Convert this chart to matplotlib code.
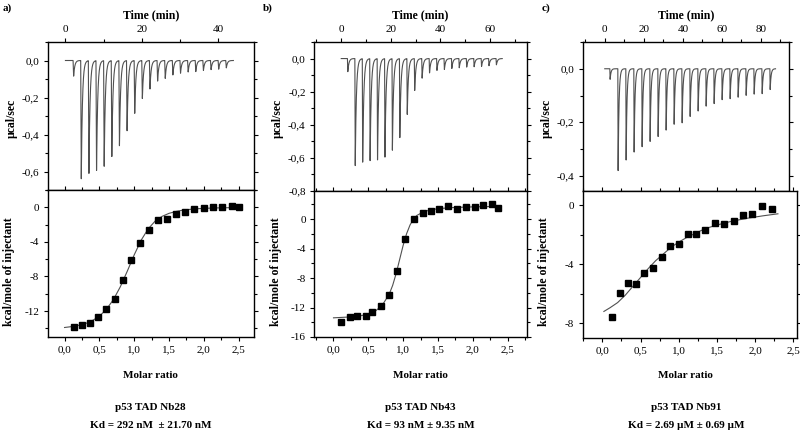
import numpy as np
import matplotlib
matplotlib.use("Agg")
import matplotlib.pyplot as plt
from matplotlib.ticker import MultipleLocator, FuncFormatter

plt.rcParams['font.family'] = ['Liberation Serif', 'DejaVu Serif']
plt.rcParams['font.size'] = 8

# ---- panel a: p53 TAD Nb28 ----
inj_a = [2, 4, 6, 8, 10, 12, 14, 16, 18, 20, 22, 24, 26, 28, 30, 32, 34, 36, 38, 40, 42]
peak_a = [-0.085, -0.642, -0.617, -0.599, -0.573, -0.524, -0.465, -0.38, -0.288, -0.208,
          -0.154, -0.112, -0.098, -0.078, -0.069, -0.063, -0.06, -0.054, -0.05, -0.047, -0.04]
ratio_a = [0.13, 0.25, 0.37, 0.48, 0.60, 0.72, 0.84, 0.96, 1.09, 1.21,
           1.34, 1.47, 1.60, 1.73, 1.86, 2.00, 2.13, 2.26, 2.40, 2.50]
heat_a = [-13.85, -13.62, -13.39, -12.73, -11.77, -10.61, -8.41, -6.10, -4.09, -2.58,
          -1.47, -1.39, -0.81, -0.50, -0.15, -0.12, 0.0, 0.04, 0.12, 0.08]
fitx_a = [0.0, 0.1, 0.2, 0.3, 0.4, 0.5, 0.6, 0.7, 0.8, 0.9, 1.0, 1.1, 1.2, 1.3, 1.4, 1.5,
          1.6, 1.7, 1.8, 1.9, 2.0, 2.2, 2.4, 2.5]
fity_a = [-13.9, -13.8, -13.65, -13.45, -13.1, -12.6, -11.8, -10.7, -9.2, -7.4, -5.5, -3.8,
          -2.5, -1.6, -1.05, -0.7, -0.48, -0.33, -0.24, -0.17, -0.12, -0.07, -0.04, -0.03]

# ---- panel b: p53 TAD Nb43 ----
inj_b = [2.5, 5.5, 8.5, 11.5, 14.5, 17.5, 20.5, 23.5, 26.5, 29.5, 32.5, 35.5, 38.5, 41.5,
         44.5, 47.5, 50.5, 53.5, 56.5, 59.5, 62.5]
peak_b = [-0.08, -0.655, -0.635, -0.625, -0.615, -0.595, -0.555, -0.48, -0.34, -0.195,
          -0.12, -0.088, -0.072, -0.066, -0.06, -0.056, -0.052, -0.05, -0.048, -0.044, -0.038]
ratio_b = [0.115, 0.23, 0.34, 0.46, 0.56, 0.68, 0.80, 0.91, 1.03, 1.16,
           1.28, 1.40, 1.52, 1.65, 1.77, 1.90, 2.03, 2.15, 2.28, 2.37]
heat_b = [-14.0, -13.3, -13.1, -13.1, -12.6, -11.8, -10.3, -7.1, -2.7, 0.0,
          0.78, 1.14, 1.42, 1.83, 1.33, 1.6, 1.69, 1.88, 1.97, 1.5]
fitx_b = [0.0, 0.1, 0.2, 0.3, 0.4, 0.5, 0.6, 0.7, 0.8, 0.85, 0.9, 0.95, 1.0, 1.05, 1.1,
          1.15, 1.2, 1.3, 1.4, 1.5, 1.7, 1.9, 2.1, 2.3, 2.38]
fity_b = [-13.4, -13.35, -13.3, -13.2, -13.1, -12.9, -12.5, -11.7, -10.2, -9.0, -7.4, -5.5,
          -3.6, -2.0, -0.8, 0.0, 0.5, 1.0, 1.25, 1.4, 1.55, 1.62, 1.67, 1.7, 1.7]

# ---- panel c: p53 TAD Nb91 ----
inj_c = [2.6, 6.7, 10.8, 14.9, 19.0, 23.1, 27.2, 31.3, 35.4, 39.5, 43.6, 47.7, 51.8, 55.9,
         60.0, 64.1, 68.2, 72.3, 76.4, 80.5, 84.6]
peak_c = [-0.04, -0.385, -0.344, -0.313, -0.292, -0.272, -0.256, -0.234, -0.212, -0.206,
          -0.181, -0.16, -0.141, -0.131, -0.116, -0.112, -0.107, -0.101, -0.097, -0.095, -0.079]
ratio_c = [0.12, 0.23, 0.33, 0.44, 0.55, 0.66, 0.78, 0.89, 1.00, 1.12,
           1.23, 1.35, 1.47, 1.60, 1.72, 1.84, 1.96, 2.09, 2.22]
heat_c = [-7.57, -5.97, -5.25, -5.34, -4.62, -4.28, -3.49, -2.79, -2.61, -1.98,
          -1.94, -1.67, -1.22, -1.24, -1.04, -0.65, -0.56, -0.07, -0.25]
fitx_c = [0.02, 0.1, 0.2, 0.3, 0.4, 0.5, 0.6, 0.7, 0.8, 0.9, 1.0, 1.1, 1.2, 1.3, 1.4, 1.5,
          1.6, 1.7, 1.8, 1.9, 2.0, 2.1, 2.2, 2.3]
fity_c = [-7.2, -6.95, -6.6, -6.1, -5.5, -4.9, -4.3, -3.75, -3.3, -2.85, -2.5, -2.2, -1.95,
          -1.7, -1.5, -1.35, -1.2, -1.08, -0.98, -0.88, -0.8, -0.72, -0.65, -0.58]

W, H = 800, 430


def rect(l, r, top, bottom):
    return [l / W, 1 - bottom / H, (r - l) / W, (bottom - top) / H]


def comma(fmt):
    return FuncFormatter(lambda v, p: (fmt % (v + 0.0)).replace('.', ','))


def thermogram(inj, peaks, t_end, tau):
    t = np.linspace(0, t_end, 6000)
    y = np.zeros_like(t)
    for t0, d in zip(inj, peaks):
        drop = (t >= t0) & (t < t0 + 0.15)
        y[drop] += d * (t[drop] - t0) / 0.15
        rec = t >= t0 + 0.15
        y[rec] += d * np.exp(-(t[rec] - t0 - 0.15) / tau)
    return t, y


def style(ax):
    for s in ax.spines.values():
        s.set_linewidth(1.0)


panels = [
    dict(lab='a)', labx=3, top=(47.5, 254, 42, 190), bot=(47.5, 254, 190, 337),
         inj=inj_a, peak=peak_a, tend=44, tau=0.3, txlim=(-4.7, 49.4), tylim=(-0.7, 0.1),
         rx=ratio_a, hy=heat_a, fx=fitx_a, fy=fity_a, xlim=(-0.245, 2.72),
         ylim=(-15, 2), title='p53 TAD Nb28', kd='Kd = 292 nM  ± 21.70 nM'),
    dict(lab='b)', labx=263, top=(314, 527, 42, 191), bot=(314, 527, 191, 337),
         inj=inj_b, peak=peak_b, tend=65, tau=0.45, txlim=(-11.0, 75.0), tylim=(-0.8, 0.1),
         rx=ratio_b, hy=heat_b, fx=fitx_b, fy=fity_b, xlim=(-0.28, 2.78),
         ylim=(-16, 3.8), title='p53 TAD Nb43', kd='Kd = 93 nM ± 9.35 nM'),
    dict(lab='c)', labx=542, top=(582.5, 789, 42, 190.5), bot=(582.5, 797, 190.5, 338),
         inj=inj_c, peak=peak_c, tend=87.5, tau=0.45, txlim=(-11.4, 94.4), tylim=(-0.455, 0.1),
         rx=ratio_c, hy=heat_c, fx=fitx_c, fy=fity_c, xlim=(-0.26, 2.55),
         ylim=(-9, 1), title='p53 TAD Nb91', kd='Kd = 2.69 µM ± 0.69 µM'),
]

fig = plt.figure(figsize=(8, 4.3), dpi=100)

for p in panels:
    # raw heat trace
    ax1 = fig.add_axes(rect(*p['top']))
    t, y = thermogram(p['inj'], p['peak'], p['tend'], p['tau'])
    ax1.plot(t, y, color='#505050', lw=0.8)
    ax1.set_xlim(*p['txlim'])
    ax1.set_ylim(*p['tylim'])
    ax1.xaxis.set_major_locator(MultipleLocator(20))
    ax1.xaxis.set_minor_locator(MultipleLocator(10))
    ax1.yaxis.set_major_locator(MultipleLocator(0.2))
    ax1.yaxis.set_minor_locator(MultipleLocator(0.1))
    ax1.yaxis.set_major_formatter(comma('%.1f'))
    ax1.tick_params(which='both', top=True, bottom=False, labeltop=True, labelbottom=False,
                    right=True, direction='out', length=3, width=0.8, pad=3)
    ax1.tick_params(which='minor', length=2)
    ax1.tick_params(axis='both', labelsize=8)
    style(ax1)

    # integrated heats
    ax2 = fig.add_axes(rect(*p['bot']))
    ax2.plot(p['fx'], p['fy'], color='#505050', lw=0.8)
    ax2.plot(p['rx'], p['hy'], 's', color='black', ms=4.2)
    ax2.set_xlim(*p['xlim'])
    ax2.set_ylim(*p['ylim'])
    ax2.xaxis.set_major_locator(MultipleLocator(0.5))
    ax2.xaxis.set_minor_locator(MultipleLocator(0.25))
    ax2.xaxis.set_major_formatter(comma('%.1f'))
    ax2.yaxis.set_major_locator(MultipleLocator(4))
    ax2.yaxis.set_minor_locator(MultipleLocator(2))
    ax2.yaxis.set_major_formatter(FuncFormatter(lambda v, q: '%d' % round(v)))
    ax2.tick_params(which='both', top=True, right=True, direction='out', length=3, width=0.8, pad=3)
    ax2.tick_params(which='minor', length=2)
    ax2.tick_params(axis='both', labelsize=8)
    style(ax2)

    l, r = p['top'][0], p['top'][1]
    cx = (l + r) / 2 / W
    fig.text(p['labx'] / W, 1 - 8 / H, p['lab'], fontsize=8, fontweight='bold', va='center')
    fig.text(cx, 1 - 15 / H, 'Time (min)', fontsize=8.5, fontweight='bold', ha='center', va='center')
    fig.text((l - 36) / W, 1 - 118 / H, 'µcal/sec', fontsize=8.5, fontweight='bold',
             rotation=90, ha='center', va='center')
    fig.text((l - 38) / W, 1 - 272 / H, 'kcal/mole of injectant', fontsize=8.5, fontweight='bold',
             rotation=90, ha='center', va='center')
    fig.text(cx, 1 - 375 / H, 'Molar ratio', fontsize=8, fontweight='bold', ha='center', va='center')
    fig.text(cx, 1 - 407 / H, p['title'], fontsize=8, fontweight='bold', ha='center', va='center')
    fig.text(cx, 1 - 425 / H, p['kd'], fontsize=8, fontweight='bold', ha='center', va='center')

fig.savefig('out.png', dpi=100)
